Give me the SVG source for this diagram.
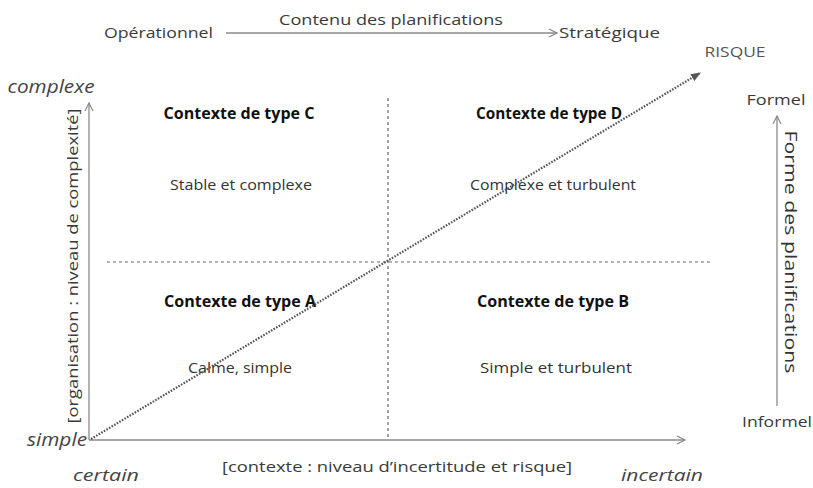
<svg xmlns="http://www.w3.org/2000/svg" width="813" height="488" viewBox="0 0 813 488">
<style>
text{font-family:"Open Sans","Liberation Sans",sans-serif;fill:#3a3a3a}
.t{font-size:15px}
.b{font-size:16px;font-weight:bold;fill:#111}
.r{font-size:14.5px;fill:#333}
.i{font-size:18px;font-style:italic;fill:#444}
.ax{stroke:#8a8a8a;stroke-width:1.3;fill:none}
.dash{stroke:#666;stroke-width:1.2;stroke-dasharray:3 3;fill:none}
.diag{stroke:#555;stroke-width:2.2;stroke-dasharray:1.6 1.4;fill:none}
</style>
<defs>
<marker id="open" viewBox="0 0 10 10" refX="9" refY="5" markerWidth="10" markerHeight="10" markerUnits="userSpaceOnUse" orient="auto">
<path d="M1,1 L9,5 L1,9" fill="none" stroke="#8a8a8a" stroke-width="1.2"/>
</marker>
<marker id="fill" viewBox="0 0 10 10" refX="9" refY="5" markerWidth="10" markerHeight="10" markerUnits="userSpaceOnUse" orient="auto">
<path d="M0,1 L10,5 L0,9 Z" fill="#555"/>
</marker>
</defs>

<g id="top-axis">
<text class="t" x="104" y="38" textLength="109" lengthAdjust="spacingAndGlyphs">Opérationnel</text>
<text class="t" x="391" y="25" text-anchor="middle" textLength="224" lengthAdjust="spacingAndGlyphs">Contenu des planifications</text>
<text class="t" x="559" y="38" textLength="101" lengthAdjust="spacingAndGlyphs">Stratégique</text>
</g>

<g id="risque">
<text x="735" y="57" text-anchor="middle" style="font-size:14px;fill:#555" textLength="61" lengthAdjust="spacingAndGlyphs">RISQUE</text>
</g>

<g id="y-axis-labels">
<text class="i" x="51" y="93" text-anchor="middle" textLength="87" lengthAdjust="spacingAndGlyphs">complexe</text>
<text class="i" x="57" y="446" text-anchor="middle" textLength="60" lengthAdjust="spacingAndGlyphs">simple</text>
<text class="t" transform="translate(78,266) rotate(-90)" text-anchor="middle" textLength="315" lengthAdjust="spacingAndGlyphs">[organisation : niveau de complexité]</text>
</g>

<g id="x-axis-labels">
<text class="i" x="106" y="481" text-anchor="middle" style="font-size:17px" textLength="66" lengthAdjust="spacingAndGlyphs">certain</text>
<text class="t" x="397" y="472" text-anchor="middle" textLength="350" lengthAdjust="spacingAndGlyphs">[contexte : niveau d’incertitude et risque]</text>
<text class="i" x="662" y="481" text-anchor="middle" style="font-size:17px" textLength="82" lengthAdjust="spacingAndGlyphs">incertain</text>
</g>

<g id="forme-axis-labels">
<text class="t" x="776" y="105" text-anchor="middle" textLength="59" lengthAdjust="spacingAndGlyphs">Formel</text>
<text class="t" x="777" y="427" text-anchor="middle" textLength="70" lengthAdjust="spacingAndGlyphs">Informel</text>
<text transform="translate(785,252) rotate(90)" text-anchor="middle" style="font-size:16px;fill:#333" textLength="243" lengthAdjust="spacingAndGlyphs">Forme des planifications</text>
</g>

<g id="quadrant-C">
<text class="b" x="239" y="119" text-anchor="middle" textLength="151" lengthAdjust="spacingAndGlyphs">Contexte de type C</text>
<text class="r" x="241" y="190" text-anchor="middle" textLength="142" lengthAdjust="spacingAndGlyphs">Stable et complexe</text>
</g>
<g id="quadrant-D">
<text class="b" x="549" y="119" text-anchor="middle" textLength="146" lengthAdjust="spacingAndGlyphs">Contexte de type D</text>
<text class="r" x="553" y="190" text-anchor="middle" textLength="166" lengthAdjust="spacingAndGlyphs">Complexe et turbulent</text>
</g>
<g id="quadrant-A">
<text class="b" x="240" y="307" text-anchor="middle" textLength="152" lengthAdjust="spacingAndGlyphs">Contexte de type A</text>
<text class="r" x="240" y="373" text-anchor="middle" textLength="104" lengthAdjust="spacingAndGlyphs">Calme, simple</text>
</g>
<g id="quadrant-B">
<text class="b" x="553" y="307" text-anchor="middle" textLength="152" lengthAdjust="spacingAndGlyphs">Contexte de type B</text>
<text class="r" x="556" y="373" text-anchor="middle" textLength="152" lengthAdjust="spacingAndGlyphs">Simple et turbulent</text>
</g>

<g id="connectors">
<line class="ax" x1="226" y1="33" x2="557" y2="33" marker-end="url(#open)"/>
<line class="ax" x1="89" y1="440" x2="89" y2="103" marker-end="url(#open)"/>
<line class="ax" x1="89" y1="440" x2="685" y2="440" marker-end="url(#open)"/>
<line class="ax" x1="777" y1="406" x2="777" y2="116" marker-end="url(#open)"/>
<line class="dash" x1="388" y1="98" x2="388" y2="440"/>
<line class="dash" x1="107" y1="262" x2="712" y2="262"/>
<line class="diag" x1="91" y1="439" x2="700" y2="73" marker-end="url(#fill)"/>
</g>
</svg>
